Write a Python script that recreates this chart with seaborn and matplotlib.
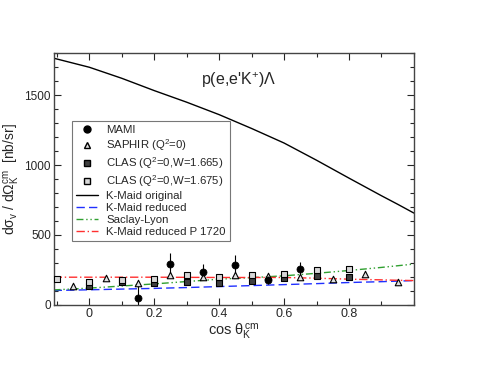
import matplotlib
matplotlib.use("Agg")
import matplotlib.pyplot as plt
from matplotlib.lines import Line2D
from matplotlib.ticker import MultipleLocator
import seaborn as sns
import pandas as pd

# MAMI data
mami_x = [0.15, 0.25, 0.35, 0.45, 0.55, 0.65]
mami_y = [52, 294, 234, 284, 179, 260]
mami_err = [110, 80, 55, 75, 30, 50]

# SAPHIR (Q^2=0)
saphir_x = [-0.05, 0.05, 0.15, 0.25, 0.35, 0.45, 0.55, 0.65, 0.75, 0.85, 0.95]
saphir_y = [136, 191, 155, 212, 196, 212, 210, 196, 186, 222, 162]
saphir_err = [15, 12, 15, 15, 12, 15, 12, 12, 12, 12, 22]

# CLAS W=1.665
clas1_x = [0.0, 0.1, 0.2, 0.3, 0.4, 0.5, 0.6, 0.7, 0.8]
clas1_y = [138, 165, 158, 165, 158, 172, 189, 208, 203]
clas1_err = [14, 14, 14, 14, 14, 14, 14, 16, 16]

# CLAS W=1.675
clas2_x = [-0.1, 0.0, 0.1, 0.2, 0.3, 0.4, 0.5, 0.6, 0.7, 0.8]
clas2_y = [184, 167, 179, 184, 215, 203, 212, 224, 253, 260]
clas2_err = [14, 14, 14, 14, 14, 14, 16, 16, 20, 16]

# model curves
curve_x = [-0.11, 0.0, 0.1, 0.2, 0.3, 0.4, 0.5, 0.6, 0.7, 0.8, 0.9, 0.95, 1.0]
kmaid_orig = [1765, 1700, 1621, 1533, 1450, 1361, 1262, 1158, 1035, 907, 781, 720, 657]
kmaid_red = [103, 108, 113, 118, 124, 131, 138, 145, 152, 160, 166, 170, 174]
saclay = [107, 120, 135, 150, 167, 184, 195, 208, 226, 246, 268, 280, 292]
kmaid_p1720 = [198, 198, 198, 198, 197, 196, 196, 196, 191, 184, 179, 176, 174]

sns.set_style("ticks")
plt.rcParams["font.family"] = ["Liberation Sans", "DejaVu Sans"]
plt.rcParams["mathtext.fontset"] = "custom"
plt.rcParams["mathtext.rm"] = "Liberation Sans"
plt.rcParams["mathtext.it"] = "Liberation Sans"

fig = plt.figure(figsize=(4.79, 3.70), dpi=100)
ax = fig.add_axes([0.112, 0.176, 0.752, 0.680])

curves = pd.DataFrame({"x": curve_x, "orig": kmaid_orig, "red": kmaid_red,
                       "saclay": saclay, "p1720": kmaid_p1720})
sns.lineplot(data=curves, x="x", y="orig", color="black", lw=1.0, ax=ax)
sns.lineplot(data=curves, x="x", y="red", color="#2030ff", lw=1.0, ax=ax,
             linestyle=(0, (6, 3)))
sns.lineplot(data=curves, x="x", y="saclay", color="#30a030", lw=1.0, ax=ax,
             linestyle=(0, (5, 2, 1, 2, 1, 2)))
sns.lineplot(data=curves, x="x", y="p1720", color="#ff3030", lw=1.0, ax=ax,
             linestyle=(0, (6, 2, 1, 2)))

ax.errorbar(clas1_x, clas1_y, yerr=clas1_err, fmt="none", ecolor="black", elinewidth=0.8)
ax.errorbar(clas2_x, clas2_y, yerr=clas2_err, fmt="none", ecolor="black", elinewidth=0.8)
ax.errorbar(saphir_x, saphir_y, yerr=saphir_err, fmt="none", ecolor="black", elinewidth=0.8)
ax.errorbar(mami_x, mami_y, yerr=mami_err, fmt="none", ecolor="black", elinewidth=0.8)

sns.scatterplot(x=clas1_x, y=clas1_y, marker="s", s=18, color="#404040",
                edgecolor="black", linewidth=0.8, ax=ax, zorder=3)
sns.scatterplot(x=clas2_x, y=clas2_y, marker="s", s=18, color="#d8d8d8",
                edgecolor="black", linewidth=0.8, ax=ax, zorder=3)
sns.scatterplot(x=saphir_x, y=saphir_y, marker="^", s=22, color="#e0e0e0",
                edgecolor="black", linewidth=0.8, ax=ax, zorder=3)
sns.scatterplot(x=mami_x, y=mami_y, marker="o", s=26, color="black",
                edgecolor="black", linewidth=0.5, ax=ax, zorder=4)

ax.set_xlim(-0.11, 1.0)
ax.set_ylim(0, 1800)
ax.xaxis.set_minor_locator(MultipleLocator(0.1))
ax.yaxis.set_major_locator(MultipleLocator(500))
ax.yaxis.set_minor_locator(MultipleLocator(100))
ax.set_xticks([0, 0.2, 0.4, 0.6, 0.8])
ax.set_xticklabels(["0", "0.2", "0.4", "0.6", "0.8"])
ax.tick_params(which="both", direction="in", top=True, right=True, labelsize=9)
ax.tick_params(axis="y", labelsize=8.5)
ax.tick_params(which="major", length=5, width=0.8, pad=2)
ax.tick_params(which="minor", length=3, width=0.8)
for sp in ax.spines.values():
    sp.set_linewidth(1.0)
    sp.set_color("#444444")

ax.set_xlabel(r"cos $\theta_K^{cm}$", fontsize=10.5, labelpad=2)
ax.set_ylabel(r"d$\sigma_v$ / d$\Omega_K^{cm}$  [nb/sr]", fontsize=10)
ax.yaxis.set_label_coords(-0.088, 0.5)
ax.text(0.46, 1610, r"p(e,e'K$^{+}$)$\Lambda$", fontsize=11.5, ha="center", va="center")

handles = [
    Line2D([], [], marker="o", ls="none", color="black", ms=5),
    Line2D([], [], marker="^", ls="none", mfc="#e0e0e0", mec="black", ms=4.5),
    Line2D([], [], marker="s", ls="none", mfc="#404040", mec="black", ms=4),
    Line2D([], [], marker="s", ls="none", mfc="#d8d8d8", mec="black", ms=4),
    Line2D([], [], color="black", lw=1.0),
    Line2D([], [], color="#2030ff", lw=1.0, ls=(0, (6, 3))),
    Line2D([], [], color="#30a030", lw=1.0, ls=(0, (5, 2, 1, 2, 1, 2))),
    Line2D([], [], color="#ff3030", lw=1.0, ls=(0, (6, 2, 1, 2))),
]
labels = ["MAMI", r"SAPHIR (Q$^2$=0)", r"CLAS (Q$^2$=0,W=1.665)",
          r"CLAS (Q$^2$=0,W=1.675)", "K-Maid original", "K-Maid reduced",
          "Saclay-Lyon", "K-Maid reduced P 1720"]
leg = ax.legend(handles, labels, loc="upper left", bbox_to_anchor=(0.05, 0.73),
                fontsize=8.2, frameon=True, fancybox=False, handlelength=2.0,
                labelspacing=0.18, borderpad=0.35, handletextpad=0.7,
                borderaxespad=0)
leg.get_frame().set_edgecolor("#555555")
leg.get_frame().set_linewidth(0.8)

fig.savefig("out.png", dpi=100)
